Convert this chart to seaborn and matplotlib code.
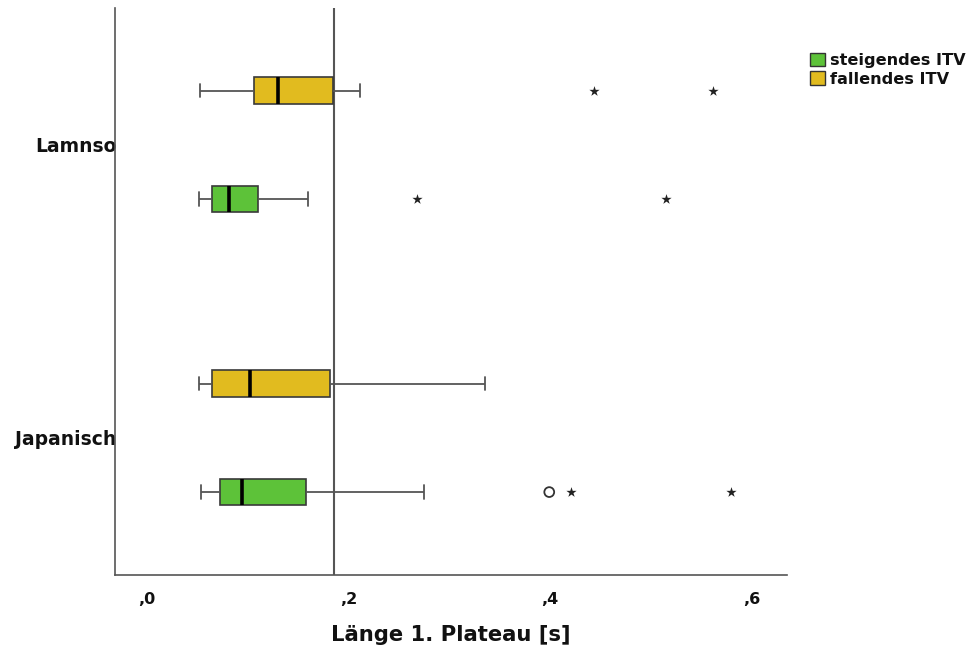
import numpy as np
import pandas as pd
import matplotlib
matplotlib.use("Agg")
import matplotlib.pyplot as plt
from matplotlib.patches import Patch
import seaborn as sns

# Summary statistics of plateau length (seconds) per language and contour
languages = ["Lamnso", "Lamnso", "Japanisch", "Japanisch"]
contours = ["fallendes ITV", "steigendes ITV", "fallendes ITV", "steigendes ITV"]
whisker_low = [0.052, 0.051, 0.051, 0.053]
quartile_1 = [0.106, 0.064, 0.064, 0.072]
medians = [0.130, 0.081, 0.102, 0.094]
quartile_3 = [0.184, 0.110, 0.181, 0.158]
whisker_high = [0.211, 0.160, 0.335, 0.275]

# Outliers: mild (circle) and extreme (star)
mild_language = ["Japanisch"]
mild_contour = ["steigendes ITV"]
mild_value = [0.399]
extreme_language = ["Lamnso", "Lamnso", "Lamnso", "Lamnso", "Japanisch", "Japanisch"]
extreme_contour = ["fallendes ITV", "fallendes ITV", "steigendes ITV", "steigendes ITV",
                   "steigendes ITV", "steigendes ITV"]
extreme_value = [0.443, 0.562, 0.268, 0.515, 0.421, 0.579]

reference_line = 0.185
x_ticks = [0.0, 0.2, 0.4, 0.6]
x_tick_labels = [",0", ",2", ",4", ",6"]
language_order = ["Lamnso", "Japanisch"]
legend_order = ["steigendes ITV", "fallendes ITV"]
hue_order = ["fallendes ITV", "steigendes ITV"]
palette = {"steigendes ITV": "#5dc239", "fallendes ITV": "#e1bb1f"}

# Expand the five-number summaries into samples with the same quartiles
rows = []
for lang, cont, lo, q1, med, q3, hi in zip(languages, contours, whisker_low,
                                           quartile_1, medians, quartile_3, whisker_high):
    values = [lo] + [q1] * 20 + [med] * 20 + [q3] * 20 + [hi]
    rows += [(lang, cont, v) for v in values]
df = pd.DataFrame(rows, columns=["Sprache", "Kontur", "Dauer"])

sns.set_theme(style="white")
FONT = ["DejaVu Sans"]
plt.rcParams["font.family"] = FONT

fig, ax = plt.subplots(figsize=(9.67, 6.52), dpi=100)
fig.subplots_adjust(left=0.1189, right=0.8139, top=0.9877, bottom=0.1181)

BOX_WIDTH = 0.74
sns.boxplot(
    data=df, x="Dauer", y="Sprache", hue="Kontur",
    order=language_order, hue_order=hue_order, palette=palette, saturation=1,
    orient="h", width=BOX_WIDTH, gap=0.754, whis=1.5, showfliers=False,
    linewidth=1.2, linecolor="#3a3a3a",
    medianprops={"color": "black", "linewidth": 2.6},
    whiskerprops={"color": "#555555", "linewidth": 1.3},
    capprops={"color": "#555555", "linewidth": 1.3},
    legend=False, ax=ax,
)

# Outlier markers at the dodged box positions
hue_offset = {"fallendes ITV": -BOX_WIDTH / 4, "steigendes ITV": BOX_WIDTH / 4}
mild_y = [language_order.index(l) + hue_offset[c] for l, c in zip(mild_language, mild_contour)]
extreme_y = [language_order.index(l) + hue_offset[c] for l, c in zip(extreme_language, extreme_contour)]
ax.scatter(mild_value, mild_y, marker="o", s=50, facecolors="none",
           edgecolors="#333333", linewidths=1.3, zorder=5)
ax.scatter(extreme_value, extreme_y, marker="*", s=60, color="#222222",
           linewidths=0, zorder=5)

ax.axvline(reference_line, color="#555555", linewidth=1.5, zorder=1)

ax.set_xlim(-0.032, 0.635)
ax.set_ylim(1.468, -0.467)
ax.set_xticks(x_ticks)
ax.set_xticklabels(x_tick_labels, fontsize=11.5, fontweight="bold")
ax.set_yticks(range(len(language_order)))
ax.set_yticklabels(language_order, fontsize=13.5, fontweight="bold")
ax.tick_params(axis="both", length=0, colors="#111111")
ax.tick_params(axis="x", pad=12)
ax.tick_params(axis="y", pad=-1)
ax.set_xlabel("Länge 1. Plateau [s]", fontsize=15.2, fontweight="bold",
              labelpad=13, color="#111111")
ax.set_ylabel("")

for side in ["top", "right"]:
    ax.spines[side].set_visible(False)
for side in ["left", "bottom"]:
    ax.spines[side].set_color("#555555")
    ax.spines[side].set_linewidth(1.2)

handles = [Patch(facecolor=palette[k], edgecolor="#333333", linewidth=1.0, label=k)
           for k in legend_order]
leg = fig.legend(handles=handles, loc="upper left", bbox_to_anchor=(0.8376, 0.919),
                 frameon=False, handlelength=0.93, handleheight=0.93, handletextpad=0.3,
                 labelspacing=0.2, borderaxespad=0, borderpad=0,
                 prop={"weight": "bold", "size": 11.6, "family": FONT})
for text in leg.get_texts():
    text.set_color("#111111")

fig.savefig("out.png", dpi=100)
